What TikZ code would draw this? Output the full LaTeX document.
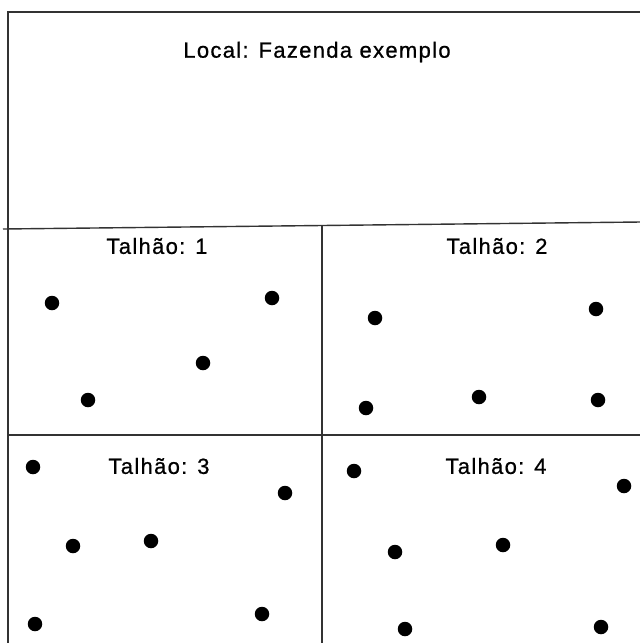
\documentclass[tikz,border=0pt]{standalone}
\usepackage{fontspec}
\setmainfont{Liberation Sans}
\newfontfamily\spaced[LetterSpace=6,FakeBold=0.8]{Liberation Sans}
\begin{document}
\begin{tikzpicture}[x=1pt,y=-1pt,
  frame/.style={draw=black!80,line width=1.4pt},
  dot/.style={circle,fill=black,inner sep=0pt,minimum size=14.5pt},
  lbl/.style={font=\spaced\fontsize{22}{26}\selectfont,inner sep=0pt}]
\useasboundingbox (0,0) rectangle (640,643);
\coordinate (tl) at (8,12);
\coordinate (tr) at (641,12);
\coordinate (bl) at (8,644);
\coordinate (h1l) at (3,229);
\coordinate (h1r) at (641,222);
\coordinate (vt) at (322,226);
\coordinate (vb) at (322,644);
\coordinate (h2l) at (8,435);
\coordinate (h2r) at (641,435);
\draw[frame] (bl) -- (tl) -- (tr);
\draw[frame] (h1l) -- (h1r);
\draw[frame] (vt) -- (vb);
\draw[frame] (h2l) -- (h2r);
\node[lbl] (title) at (317,52) {Local: Fazenda exemplo};
\node[lbl] (t1) at (157,246) {Talhão: 1};
\node[lbl] (t2) at (497,246) {Talhão: 2};
\node[lbl] (t3) at (159,466) {Talhão: 3};
\node[lbl] (t4) at (496,466) {Talhão: 4};
% Talhao 1
\node[dot] (a1) at (52,303) {};
\node[dot] (a2) at (272,298) {};
\node[dot] (a3) at (203,363) {};
\node[dot] (a4) at (88,400) {};
% Talhao 2
\node[dot] (b1) at (375,318) {};
\node[dot] (b2) at (596,309) {};
\node[dot] (b3) at (479,397) {};
\node[dot] (b4) at (366,408) {};
\node[dot] (b5) at (598,400) {};
% Talhao 3
\node[dot] (c1) at (33,467) {};
\node[dot] (c2) at (285,493) {};
\node[dot] (c3) at (73,546) {};
\node[dot] (c4) at (151,541) {};
\node[dot] (c5) at (35,624) {};
\node[dot] (c6) at (262,614) {};
% Talhao 4
\node[dot] (d1) at (354,471) {};
\node[dot] (d2) at (624,486) {};
\node[dot] (d3) at (395,552) {};
\node[dot] (d4) at (503,545) {};
\node[dot] (d5) at (405,629) {};
\node[dot] (d6) at (601,627) {};
\end{tikzpicture}
\end{document}
